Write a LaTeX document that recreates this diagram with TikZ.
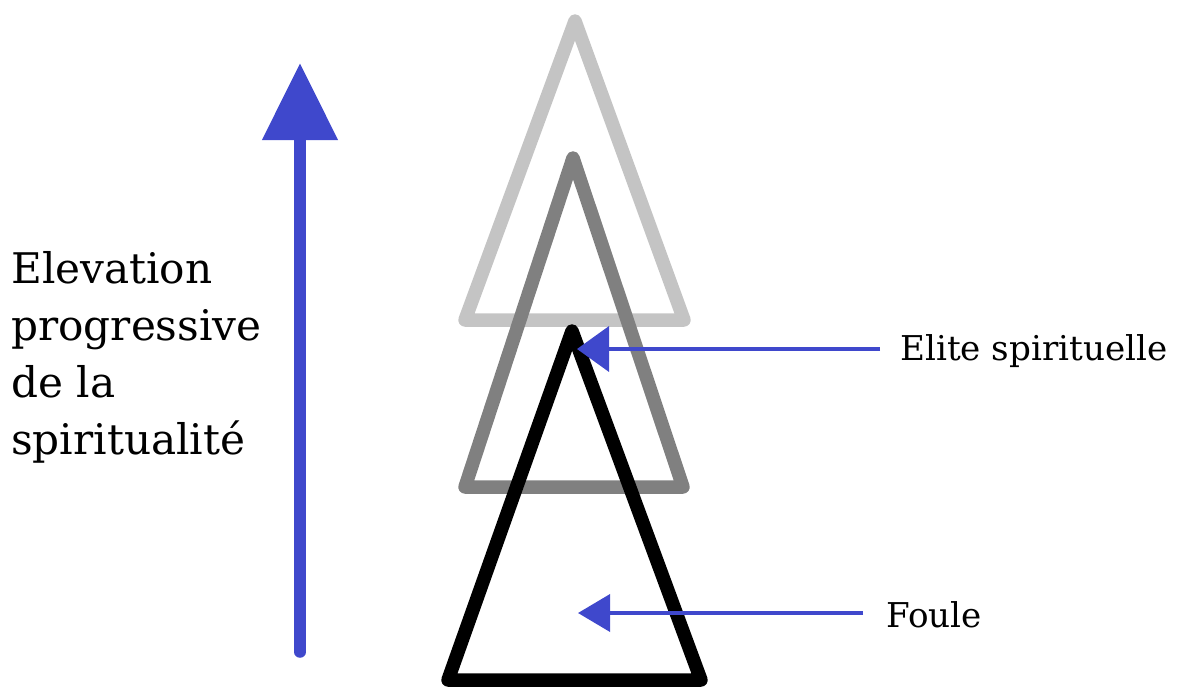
\documentclass[tikz,border=0pt]{standalone}
\usepackage{fontspec}
\setmainfont{DejaVu Serif}
\usetikzlibrary{arrows.meta,positioning}
\definecolor{arrowblue}{RGB}{63,72,204}
\definecolor{lightgrey}{RGB}{196,196,196}
\definecolor{midgrey}{RGB}{128,128,128}

\begin{document}
\begin{tikzpicture}[x=0.025cm,y=-0.025cm,
    tri/.style={line width=9.6pt,line join=round},
    pointer/.style={draw=arrowblue,line width=2.85pt},
    lbl/.style={inner sep=0pt,anchor=base west,font=\fontsize{24.3}{30}\selectfont}]
    \useasboundingbox (0,0) rectangle (1180,686);

    % Pyramids
    \draw[tri,lightgrey] (575,21) -- (465,320) -- (684,320) -- cycle;
    \draw[tri,midgrey] (573,158) -- (465,487) -- (683,487) -- cycle;
    \draw[tri,black] (572,331) -- (448,680) -- (701,680) -- cycle;

    % Elevation arrow
    \coordinate (low) at (300,652);
    \coordinate (high) at (300,63);
    \draw[draw=arrowblue,fill=arrowblue,line width=8.2pt,line cap=round,
        -{Triangle[length=54.8pt,width=51.9pt]}] (low) -- (high);
    \node[inner sep=0pt,anchor=base west,align=left,
        font=\fontsize{30}{40.5}\selectfont] (elevation) at (11,454)
        {Elevation\\progressive\\de la\\spiritualité};

    % Labels
    \node[lbl] (elite) at (900,360) {Elite spirituelle};
    \node[lbl] (foule) at (886,627) {Foule};
    \coordinate (eliteEnd) at (880,349);
    \coordinate (eliteTip) at (577,349);
    \coordinate (fouleEnd) at (863,613);
    \coordinate (fouleTip) at (578,613);
    \draw[pointer,-{Triangle[length=22.8pt,width=32pt,fill=arrowblue]}] (eliteEnd) -- (eliteTip);
    \draw[pointer,-{Triangle[length=22.8pt,width=26.3pt,fill=arrowblue]}] (fouleEnd) -- (fouleTip);
\end{tikzpicture}
\end{document}
